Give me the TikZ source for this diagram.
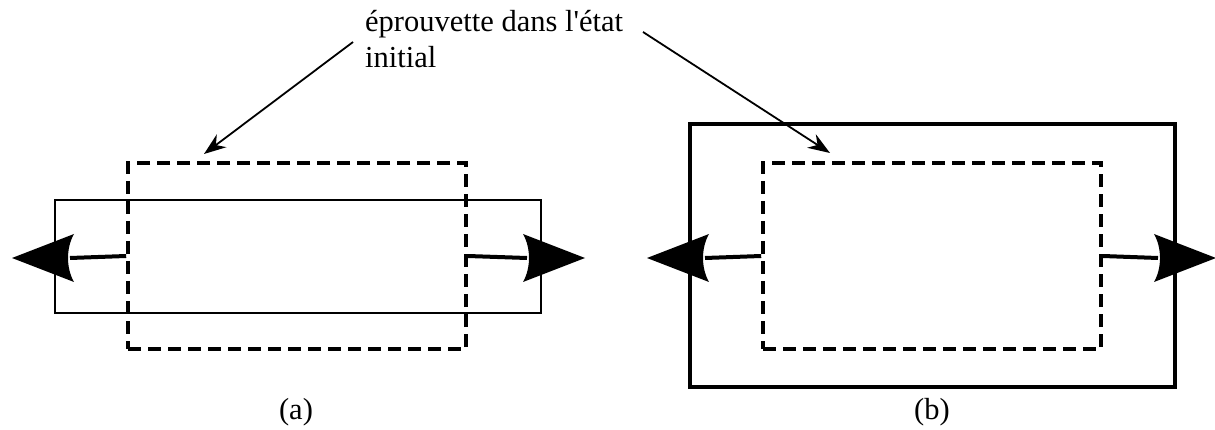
\documentclass[tikz,border=0pt]{standalone}
\usepackage{fontspec}
\newfontfamily\lblfont{Liberation Serif}
\usetikzlibrary{arrows.meta}
\tikzset{
  initbox/.style={draw, line width=3.6pt, dash pattern=on 13pt off 7pt, inner sep=0pt},
  thinbox/.style={draw, line width=2.6pt, inner sep=0pt},
  thickbox/.style={draw, line width=4.5pt, inner sep=0pt},
  shaft/.style={line width=4pt},
  pointer/.style={line width=1.8pt, -{Stealth[length=22pt,width=16pt]}},
  lbl/.style={font=\lblfont\fontsize{30.5}{36}\selectfont, inner sep=0pt},
}
\newcommand{\BigHeadAt}[2]{% tip coordinate, direction (1 right, -1 left)
  \fill[shift={(#1)}, xscale=#2] (0,0) -- (-62,-24) .. controls (-54,-10) and (-54,10) .. (-62,24) -- cycle;}
\begin{document}
\begin{tikzpicture}[x=1pt,y=-1pt]
\useasboundingbox (0,0) rectangle (1215,430);
% (a)
\node[thinbox, minimum width=486pt, minimum height=113pt] (sa) at (298,256.5) {};
\node[initbox, minimum width=338pt, minimum height=186pt] (da) at (297,256) {};
% (b)
\node[thickbox, minimum width=485pt, minimum height=263pt] (sb) at (932.5,255.5) {};
\node[initbox, minimum width=338pt, minimum height=186pt] (db) at (932,256) {};
% arrow tips
\coordinate (tAL) at (12,258);
\coordinate (tAR) at (585,258);
\coordinate (tBL) at (647,258);
\coordinate (tBR) at (1216,258);
\coordinate (iAL) at (70,258);
\coordinate (iAR) at (527,258);
\coordinate (iBL) at (705,258);
\coordinate (iBR) at (1158,258);
\draw[shaft] (da.west) -- (iAL);
\draw[shaft] (da.east) -- (iAR);
\draw[shaft] (db.west) -- (iBL);
\draw[shaft] (db.east) -- (iBR);
\BigHeadAt{tAL}{-1}
\BigHeadAt{tAR}{1}
\BigHeadAt{tBL}{-1}
\BigHeadAt{tBR}{1}
% label
\node[lbl, anchor=north west, align=left] (txt) at (365,10) {éprouvette dans l'état\\initial};
\coordinate (pa) at (353,42);
\coordinate (pb) at (643,32);
\coordinate (ea) at (204,154);
\coordinate (eb) at (830,153);
\draw[pointer] (pa) -- (ea);
\draw[pointer] (pb) -- (eb);
% captions
\node[lbl] (capa) at (296,412) {(a)};
\node[lbl] (capb) at (932,412) {(b)};
\end{tikzpicture}
\end{document}
